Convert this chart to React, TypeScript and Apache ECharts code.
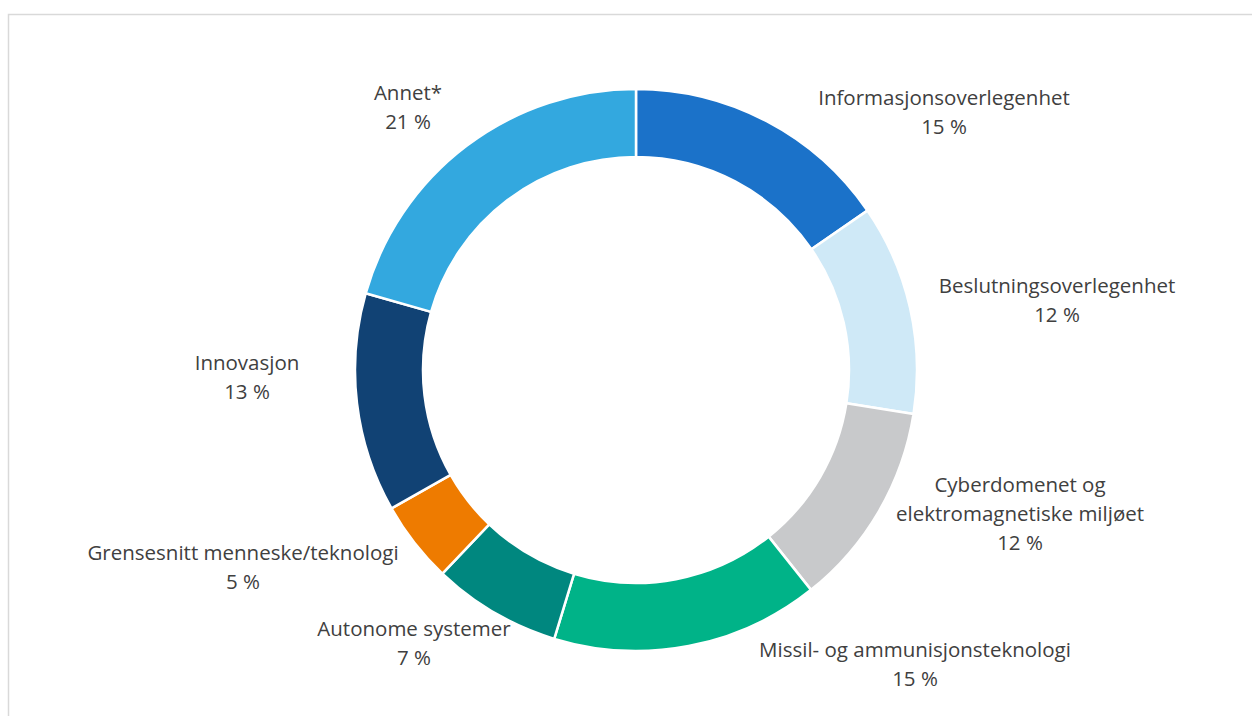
import React, { useEffect, useRef } from "react";
import * as echarts from "echarts";

const categories = [
  "Informasjonsoverlegenhet",
  "Beslutningsoverlegenhet",
  "Cyberdomenet og\nelektromagnetiske miljøet",
  "Missil- og ammunisjonsteknologi",
  "Autonome systemer",
  "Grensesnitt menneske/teknologi",
  "Innovasjon",
  "Annet*",
];
// shares (%); labels show them rounded
const values = [15.4, 12.1, 11.8, 15.4, 7.4, 4.7, 12.6, 20.6];

const COLORS = ["#1B72C9", "#CFE9F7", "#C8C9CB", "#00B388", "#00877F", "#EE7B00", "#114274", "#33A8DF"];
// label block centre offsets (px) from the pie centre, as placed in the reference
const LABEL_OFFSETS: [number, number][] = [
  [308, -259],
  [421, -71],
  [384, 143],
  [279, 293],
  [-222, 272],
  [-393, 196],
  [-389, 6],
  [-228, -264],
];
const CENTER: [number, number] = [636, 370];

export default function App() {
  const ref = useRef<HTMLDivElement>(null);
  useEffect(() => {
    if (!ref.current) return;
    const chart = echarts.init(ref.current, undefined, { renderer: "svg" });
    chart.setOption({
      animation: false,
      backgroundColor: "#ffffff",
      graphic: [
        {
          type: "rect",
          shape: { x: 8.5, y: 14.5, width: 1260, height: 720 },
          style: { fill: "none", stroke: "#D9D9D9", lineWidth: 1.5 },
          silent: true,
        },
      ],
      series: [
        {
          type: "pie",
          center: CENTER,
          radius: [213, 281],
          startAngle: 90,
          clockwise: true,
          avoidLabelOverlap: false,
          itemStyle: { borderColor: "#ffffff", borderWidth: 2.5 },
          label: {
            show: true,
            position: "outside",
            formatter: (p: any) => `${p.name}\n${Math.round(p.value)} %`,
            color: "#404040",
            fontFamily: "Open Sans",
            fontSize: 20.5,
            lineHeight: 29,
            align: "center",
          },
          labelLine: { show: false },
          labelLayout: (params: any) => {
            const o = LABEL_OFFSETS[params.dataIndex];
            return {
              x: CENTER[0] + o[0],
              y: CENTER[1] + o[1],
              align: "center",
              verticalAlign: "middle",
            };
          },
          emphasis: { disabled: true },
          data: categories.map((name, i) => ({
            name,
            value: values[i],
            itemStyle: { color: COLORS[i] },
          })),
        },
      ],
    });
    return () => chart.dispose();
  }, []);
  return (
    <div
      ref={ref}
      style={{ position: "absolute", left: 0, top: 0, width: 1252, height: 716 }}
    />
  );
}
